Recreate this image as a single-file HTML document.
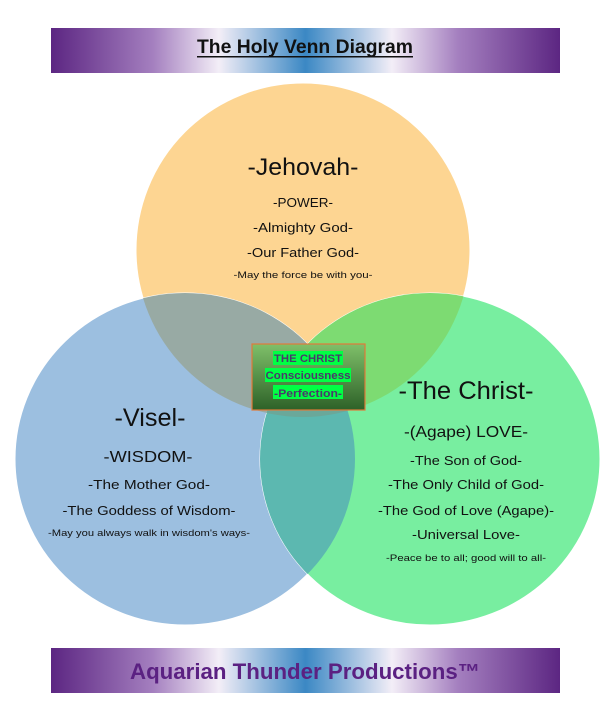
<!DOCTYPE html>
<html><head><meta charset="utf-8"><style>
html,body{margin:0;padding:0;background:#fff;}
svg{display:block;}
text{font-family:"Liberation Sans",sans-serif;fill:#111;}
</style></head><body>
<svg width="615" height="711" viewBox="0 0 615 711" xmlns="http://www.w3.org/2000/svg">
<defs>
<linearGradient id="ban" x1="0" x2="1" y1="0" y2="0">
<stop offset="0" stop-color="#5c2682"/><stop offset="0.2" stop-color="#a47fbf"/><stop offset="0.33" stop-color="#f3eef7"/><stop offset="0.5" stop-color="#3b88c4"/><stop offset="0.67" stop-color="#f3eef7"/><stop offset="0.8" stop-color="#a47fbf"/><stop offset="1" stop-color="#5c2682"/>
</linearGradient>
<linearGradient id="box" x1="0" x2="0" y1="0" y2="1">
<stop offset="0" stop-color="#7fc06a"/><stop offset="1" stop-color="#2d6128"/>
</linearGradient>
<clipPath id="cO"><circle cx="303" cy="250" r="167"/></clipPath>
<clipPath id="cB"><ellipse cx="185" cy="459" rx="170" ry="166"/></clipPath>
<clipPath id="cG"><ellipse cx="430" cy="459" rx="170" ry="166"/></clipPath>
</defs>
<rect x="51" y="28" width="509" height="45" fill="url(#ban)"/>
<text x="305" y="53" text-anchor="middle" font-size="19" font-weight="bold" textLength="216" lengthAdjust="spacingAndGlyphs">The Holy Venn Diagram</text>
<rect x="197" y="56" width="216" height="1.5" fill="#111"/>

<circle cx="303" cy="250" r="167" fill="#fdd592" stroke="#fff" stroke-width="1"/>
<ellipse cx="185" cy="459" rx="170" ry="166" fill="#9cbfe0" stroke="#fff" stroke-width="1"/>
<ellipse cx="430" cy="459" rx="170" ry="166" fill="#78eea0" stroke="#fff" stroke-width="1"/>
<g clip-path="url(#cO)">
<ellipse cx="185" cy="459" rx="170" ry="166" fill="#98aaa4"/>
<ellipse cx="430" cy="459" rx="170" ry="166" fill="#7ddb72"/>
</g>
<g clip-path="url(#cB)"><ellipse cx="430" cy="459" rx="170" ry="166" fill="#5cb8b0"/></g>
<g clip-path="url(#cB)"><g clip-path="url(#cO)"><ellipse cx="430" cy="459" rx="170" ry="166" fill="#6aa89a"/></g></g>

<text x="303" y="175" text-anchor="middle" font-size="24" textLength="111" lengthAdjust="spacingAndGlyphs">-Jehovah-</text>
<text x="303" y="207" text-anchor="middle" font-size="13" textLength="60" lengthAdjust="spacingAndGlyphs">-POWER-</text>
<text x="303" y="232" text-anchor="middle" font-size="13" textLength="100" lengthAdjust="spacingAndGlyphs">-Almighty God-</text>
<text x="303" y="257" text-anchor="middle" font-size="13" textLength="112" lengthAdjust="spacingAndGlyphs">-Our Father God-</text>
<text x="303" y="278" text-anchor="middle" font-size="9.5" textLength="139" lengthAdjust="spacingAndGlyphs">-May the force be with you-</text>

<text x="150" y="426" text-anchor="middle" font-size="25" textLength="71" lengthAdjust="spacingAndGlyphs">-Visel-</text>
<text x="148" y="462" text-anchor="middle" font-size="16" textLength="89" lengthAdjust="spacingAndGlyphs">-WISDOM-</text>
<text x="149" y="489" text-anchor="middle" font-size="13" textLength="122" lengthAdjust="spacingAndGlyphs">-The Mother God-</text>
<text x="149" y="515" text-anchor="middle" font-size="13" textLength="173" lengthAdjust="spacingAndGlyphs">-The Goddess of Wisdom-</text>
<text x="149" y="536" text-anchor="middle" font-size="9.5" textLength="202" lengthAdjust="spacingAndGlyphs">-May you always walk in wisdom's ways-</text>

<text x="466" y="399" text-anchor="middle" font-size="25" textLength="135" lengthAdjust="spacingAndGlyphs">-The Christ-</text>
<text x="466" y="437" text-anchor="middle" font-size="16" textLength="124" lengthAdjust="spacingAndGlyphs">-(Agape) LOVE-</text>
<text x="466" y="465" text-anchor="middle" font-size="13" textLength="112" lengthAdjust="spacingAndGlyphs">-The Son of God-</text>
<text x="466" y="489" text-anchor="middle" font-size="13" textLength="156" lengthAdjust="spacingAndGlyphs">-The Only Child of God-</text>
<text x="466" y="515" text-anchor="middle" font-size="13" textLength="176" lengthAdjust="spacingAndGlyphs">-The God of Love (Agape)-</text>
<text x="466" y="539" text-anchor="middle" font-size="13" textLength="108" lengthAdjust="spacingAndGlyphs">-Universal Love-</text>
<text x="466" y="561" text-anchor="middle" font-size="9.5" textLength="160" lengthAdjust="spacingAndGlyphs">-Peace be to all; good will to all-</text>

<rect x="252" y="344" width="113" height="66" fill="url(#box)" stroke="#e07a3a" stroke-width="1.2"/>
<rect x="273" y="351" width="70" height="14" fill="#00ff44"/>
<rect x="265" y="368" width="86" height="14" fill="#00ff44"/>
<rect x="273" y="385" width="70" height="14" fill="#00ff44"/>
<text x="308" y="362" text-anchor="middle" font-size="11" font-weight="bold" fill="#4a3a6a" style="fill:#4a3a6a" textLength="68" lengthAdjust="spacingAndGlyphs">THE CHRIST</text>
<text x="308" y="379" text-anchor="middle" font-size="11" font-weight="bold" style="fill:#4a3a6a" textLength="85" lengthAdjust="spacingAndGlyphs">Consciousness</text>
<text x="308" y="397" text-anchor="middle" font-size="11" font-weight="bold" style="fill:#4a3a6a" textLength="68" lengthAdjust="spacingAndGlyphs">-Perfection-</text>

<rect x="51" y="648" width="509" height="45" fill="url(#ban)"/>
<text x="305" y="679" text-anchor="middle" font-size="22" font-weight="bold" style="fill:#5b2182" textLength="350" lengthAdjust="spacingAndGlyphs">Aquarian Thunder Productions™</text>
</svg>
</body></html>
